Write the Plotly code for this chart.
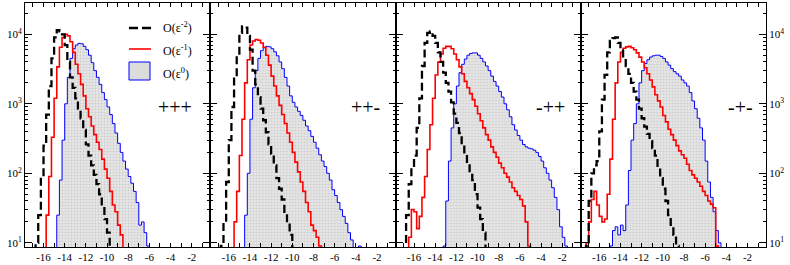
import numpy as np
import plotly.graph_objects as go
from plotly.subplots import make_subplots

BIN = 0.25
panels = ["+++", "++-", "-++", "-+-"]

# O(eps^-2) series (counts per bin), start = left edge of first bin
ppp_eps2_start = -16.75
ppp_eps2 = [10, 25, 90, 250, 700, 1800, 4500, 9000, 11500, 11000, 10000, 7000, 4000, 2400,
            1700, 1200, 850, 620, 420, 260, 180, 130, 95, 70, 50, 33, 22, 14, 8]
ppm_eps2_start = -16.75
ppm_eps2 = [9, 20, 75, 300, 900, 2300, 5000, 10500, 13000, 12500, 9500, 6000, 3000, 1900,
            1250, 850, 580, 390, 260, 190, 130, 85, 60, 42, 28, 19, 13, 8]
mpp_eps2_start = -17.0
mpp_eps2 = [8, 25, 70, 120, 180, 450, 1200, 3500, 7500, 10500, 11000, 9500, 7500, 5500,
            4000, 2800, 2000, 1500, 1050, 720, 530, 380, 260, 190, 130, 100, 80, 50, 32, 22,
            14, 8]
mpm_eps2_start = -17.25
mpm_eps2 = [9, 40, 100, 130, 150, 400, 1150, 2600, 5500, 8000, 8800, 9000, 7500, 5800, 4500,
            3500, 2700, 2000, 1500, 1150, 850, 620, 470, 370, 290, 230, 180, 120, 85, 60, 40,
            25, 17, 13, 9]

# O(eps^-1)
ppp_eps1_start = -16.0
ppp_eps1 = [8, 25, 90, 330, 1200, 3400, 6500, 9000, 10000, 9500, 7800, 5500, 3700, 2700, 1900,
            1300, 850, 650, 480, 360, 280, 220, 160, 115, 85, 55, 35, 28, 18, 13, 7]
ppm_eps1_start = -15.5
ppm_eps1 = [20, 55, 180, 600, 2000, 4300, 7000, 8000, 8400, 8200, 7500, 6500, 5000, 3600, 2500,
            1800, 1300, 950, 700, 520, 380, 280, 200, 145, 105, 75, 55, 38, 28, 18, 15, 12, 9]
mpp_eps1_start = -16.5
mpp_eps1 = [12, 30, 28, 16, 24, 45, 90, 220, 500, 1200, 2600, 4000, 5200, 6300, 6700, 6700,
            6200, 5200, 4300, 3400, 2700, 2100, 1700, 1400, 1150, 920, 720, 570, 450, 360, 300,
            240, 200, 170, 140, 120, 100, 88, 75, 62, 55, 48, 42, 34, 20, 9]
mpm_eps1_start = -17.25
mpm_eps1 = [10, 20, 42, 55, 35, 24, 20, 22, 50, 160, 600, 2000, 4000, 5500, 6300, 6600, 6700,
            6400, 6000, 5400, 4700, 4000, 3300, 2700, 2200, 1750, 1350, 1100, 900, 680, 550,
            430, 360, 300, 250, 210, 185, 165, 135, 110, 95, 85, 75, 65, 55, 48, 40, 36, 32, 9]

# O(eps^0)
ppp_eps0_start = -15.0
ppp_eps0 = [8, 25, 80, 300, 1000, 2400, 4500, 6200, 7000, 7400, 7300, 6700, 6000, 5000, 3900,
            3000, 2400, 1900, 1450, 1150, 900, 700, 520, 380, 270, 200, 150, 115, 90, 72, 55,
            38, 18, 20, 14, 9]
ppm_eps0_start = -14.75
ppm_eps0 = [8, 25, 100, 600, 1700, 3000, 4500, 5800, 6400, 6700, 6600, 6200, 5600, 4900, 4000,
            3200, 2400, 1800, 1300, 1050, 900, 780, 680, 580, 480, 410, 340, 280, 230, 185, 150,
            125, 100, 80, 58, 48, 38, 30, 24, 19, 14, 11, 0, 0, 9]
mpp_eps0_start = -13.25
mpp_eps0 = [9, 40, 150, 450, 1000, 1800, 2800, 3700, 4400, 5000, 5300, 5400, 5400, 5000, 4500,
            4000, 3500, 3000, 2500, 2100, 1800, 1500, 1250, 1000, 820, 650, 500, 420, 350, 300,
            260, 240, 230, 225, 215, 200, 175, 150, 120, 100, 80, 62, 45, 30, 17, 12, 9]
mpm_eps0_start = -15.0
mpm_eps0 = [9, 15, 17, 13, 18, 15, 35, 110, 300, 520, 1000, 2000, 3000, 3800, 4300, 4700, 4900,
            5000, 5000, 4800, 4500, 4000, 3600, 3200, 2900, 2700, 2500, 2200, 2000, 1800, 1450,
            1100, 850, 620, 450, 300, 150, 75, 45, 28, 15, 10]

eps2 = [(ppp_eps2_start, ppp_eps2), (ppm_eps2_start, ppm_eps2), (mpp_eps2_start, mpp_eps2), (mpm_eps2_start, mpm_eps2)]
eps1 = [(ppp_eps1_start, ppp_eps1), (ppm_eps1_start, ppm_eps1), (mpp_eps1_start, mpp_eps1), (mpm_eps1_start, mpm_eps1)]
eps0 = [(ppp_eps0_start, ppp_eps0), (ppm_eps0_start, ppm_eps0), (mpp_eps0_start, mpp_eps0), (mpm_eps0_start, mpm_eps0)]

x_ticks = [-16, -14, -12, -10, -8, -6, -4, -2]
x_ticktext = [str(v) for v in x_ticks]
y_ticks = [10, 100, 1000, 10000]
y_ticktext = ["10<sup>1</sup>", "10<sup>2</sup>", "10<sup>3</sup>", "10<sup>4</sup>"]
y_minor = [m * 10 ** d for d in range(0, 5) for m in range(2, 10)]
legend_names = ["O(ε<sup>-2</sup>)", "O(ε<sup>-1</sup>)", "O(ε<sup>0</sup>)"]

FLOOR = 1.0
W, H = 790, 265
ML, MR, MT, MB = 25, 24, 3, 18


def step_xy(start, vals):
    vals = np.maximum(np.asarray(vals, dtype=float), FLOOR)
    n = len(vals)
    edges = start + BIN * np.arange(n + 1)
    xs = np.concatenate([[edges[0]], edges])
    ys = np.concatenate([[FLOOR], vals, [FLOOR]])
    return xs, ys


def px(xp):
    return (xp - ML) / (W - ML - MR)


def py(yp):
    return (H - MB - yp) / (H - MT - MB)


fig = make_subplots(rows=1, cols=4, horizontal_spacing=0, shared_yaxes=False)

for i in range(4):
    col = i + 1
    xs, ys = step_xy(*eps0[i])
    fig.add_trace(go.Scatter(x=xs, y=ys, mode="lines", line=dict(shape="hv", color="#0000ff", width=1),
                             fill="toself", fillcolor="#e2e2e2",
                             fillpattern=dict(shape=".", fgcolor="#b4b4b4", bgcolor="#e6e6e6", size=3, solidity=0.3),
                             showlegend=False, hoverinfo="skip"), row=1, col=col)
    xs, ys = step_xy(*eps1[i])
    fig.add_trace(go.Scatter(x=xs, y=ys, mode="lines", line=dict(shape="hv", color="#ff0000", width=1.6),
                             showlegend=False, hoverinfo="skip"), row=1, col=col)
    xs, ys = step_xy(*eps2[i])
    fig.add_trace(go.Scatter(x=xs, y=ys, mode="lines", line=dict(shape="hv", color="#000000", width=2.3, dash="8px,4px"),
                             showlegend=False, hoverinfo="skip"), row=1, col=col)

    fig.update_xaxes(row=1, col=col, range=[-17.75, -0.25], tickmode="array", tickvals=x_ticks,
                     ticktext=x_ticktext, ticks="inside", ticklen=4, tickcolor="black",
                     minor=dict(dtick=1, tick0=0, ticks="inside", ticklen=4, tickcolor="black", showgrid=False),
                     showline=True, linecolor="black", linewidth=1, mirror="allticks",
                     showgrid=False, zeroline=False, automargin=False,
                     tickfont=dict(family="Liberation Serif", size=11, color="black"))
    fig.update_yaxes(row=1, col=col, type="log", range=[0.94, 4.45], tickmode="array",
                     tickvals=y_ticks, ticktext=y_ticktext, ticks="inside", ticklen=7,
                     tickcolor="black", showline=True, linecolor="black", linewidth=1,
                     mirror="allticks", showgrid=False, zeroline=False, automargin=False,
                     minor=dict(tickmode="array", tickvals=y_minor, ticks="inside", ticklen=3,
                                tickcolor="black", showgrid=False),
                     showticklabels=(i in (0, 3)), side=("right" if i == 3 else "left"),
                     tickfont=dict(family="Liberation Serif", size=11, color="black"))
    fig.add_annotation(text=panels[i], x=[-3.6, -3.1, -3.1, -2.7][i], y=2.95,
                       xref=f"x{'' if i == 0 else col}", yref=f"y{'' if i == 0 else col}",
                       showarrow=False, font=dict(family="Liberation Serif", size=20, color="black"))

# manual legend (panel 1, top right)
fig.add_shape(type="line", xref="paper", yref="paper", x0=px(129), x1=px(151), y0=py(28), y1=py(28),
              line=dict(color="black", width=2.5, dash="9px,4px"))
fig.add_shape(type="line", xref="paper", yref="paper", x0=px(129), x1=px(151), y0=py(49), y1=py(49),
              line=dict(color="#ff0000", width=1.6))
fig.add_shape(type="rect", xref="paper", yref="paper", x0=px(129), x1=px(150), y0=py(80), y1=py(62),
              line=dict(color="#0000ff", width=1), fillcolor="#dcdcdc")
for name, yp in zip(legend_names, [28, 50, 73]):
    fig.add_annotation(text=name, xref="paper", yref="paper", x=px(161), y=py(yp), xanchor="left",
                       yanchor="middle", showarrow=False,
                       font=dict(family="Liberation Serif", size=12, color="black"))

fig.update_layout(
    width=W, height=H,
    margin=dict(l=ML, r=MR, t=MT, b=MB),
    paper_bgcolor="white", plot_bgcolor="white",
    showlegend=False, hovermode=False,
)

fig.write_html("out.html", config={"displayModeBar": False, "staticPlot": True},
               post_script="document.body.style.margin='0px';document.body.style.padding='0px';")
